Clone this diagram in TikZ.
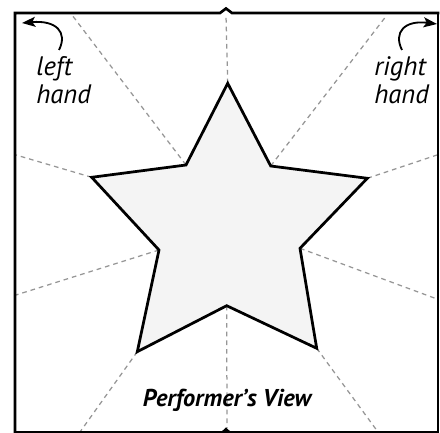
\documentclass[tikz,border=0pt]{standalone}
\usepackage{fontspec}
\setmainfont{PT Sans}
\usetikzlibrary{arrows.meta}
\definecolor{GuideGray}{RGB}{150,150,150}
\definecolor{StarFill}{RGB}{244,244,244}

\begin{document}
\begin{tikzpicture}[x=0.6pt, y=-0.6pt,
    guide/.style={draw=GuideGray, line width=0.75pt, dash pattern=on 2.8pt off 2.4pt},
    frameline/.style={line width=1.6pt, line join=miter, line cap=rect},
    handlabel/.style={font=\itshape\fontsize{16}{16.8}\selectfont, align=left, inner sep=0pt},
    turn/.style={-{Stealth[length=8pt, width=6pt, inset=1.8pt]}, line width=1.1pt}]
    \useasboundingbox (0,0) rectangle (440,433);

    % Star vertices, clockwise from the top
    \coordinate (s1) at (227.7,83.3);
    \coordinate (s2) at (270.7,166);
    \coordinate (s3) at (367.3,178.3);
    \coordinate (s4) at (300,248.3);
    \coordinate (s5) at (316.7,348.3);
    \coordinate (s6) at (226.7,305.7);
    \coordinate (s7) at (137.3,351.7);
    \coordinate (s8) at (159,250);
    \coordinate (s9) at (91.7,177.3);
    \coordinate (s10) at (186,165);

    % Guide lines out to the frame
    \draw[guide] (s1) -- (226,15);
    \draw[guide] (s10) -- (72,15);
    \draw[guide] (s2) -- (387,15);
    \draw[guide] (s9) -- (16,155);
    \draw[guide] (s3) -- (437,155);
    \draw[guide] (s8) -- (16,295);
    \draw[guide] (s4) -- (437,299);
    \draw[guide] (s7) -- (80,432);
    \draw[guide] (s5) -- (378,432);
    \draw[guide] (s6) -- (227,428);

    % The star
    \filldraw[fill=StarFill, line width=1.65pt, line join=miter]
        (s1) -- (s2) -- (s3) -- (s4) -- (s5) -- (s6) -- (s7) -- (s8) -- (s9) -- (s10) -- cycle;

    % Frame with the centre notches
    \draw[frameline] (15,432.5) -- (15,13) -- (220,13) -- (226,8.5) -- (232,13) -- (438,13);
    \draw[line width=0.8pt] (438,13) -- (438,433);
    \draw[frameline] (15,432.5) -- (438,432.5);
    \fill (220,433) -- (226,427.5) -- (232,433) -- cycle;

    % Hand labels and turning arrows
    \node[handlabel, anchor=north west] (lefthand) at (36,56) {left\\hand};
    \node[handlabel, anchor=north west] (righthand) at (374,56) {right\\hand};
    \coordinate (lefttail) at (59,50);
    \coordinate (lefttip) at (22,23);
    \coordinate (righttail) at (402,50);
    \coordinate (righttip) at (437,24);
    \draw[turn] (lefttail) .. controls (68,32) and (56,20) .. (lefttip);
    \draw[turn] (righttail) .. controls (393,32) and (405,20) .. (righttip);

    % Caption
    \node[font=\bfseries\itshape\fontsize{14.6}{16}\selectfont, inner sep=0pt, anchor=base] (caption)
        at (227,407) {Performer’s View};
\end{tikzpicture}
\end{document}
